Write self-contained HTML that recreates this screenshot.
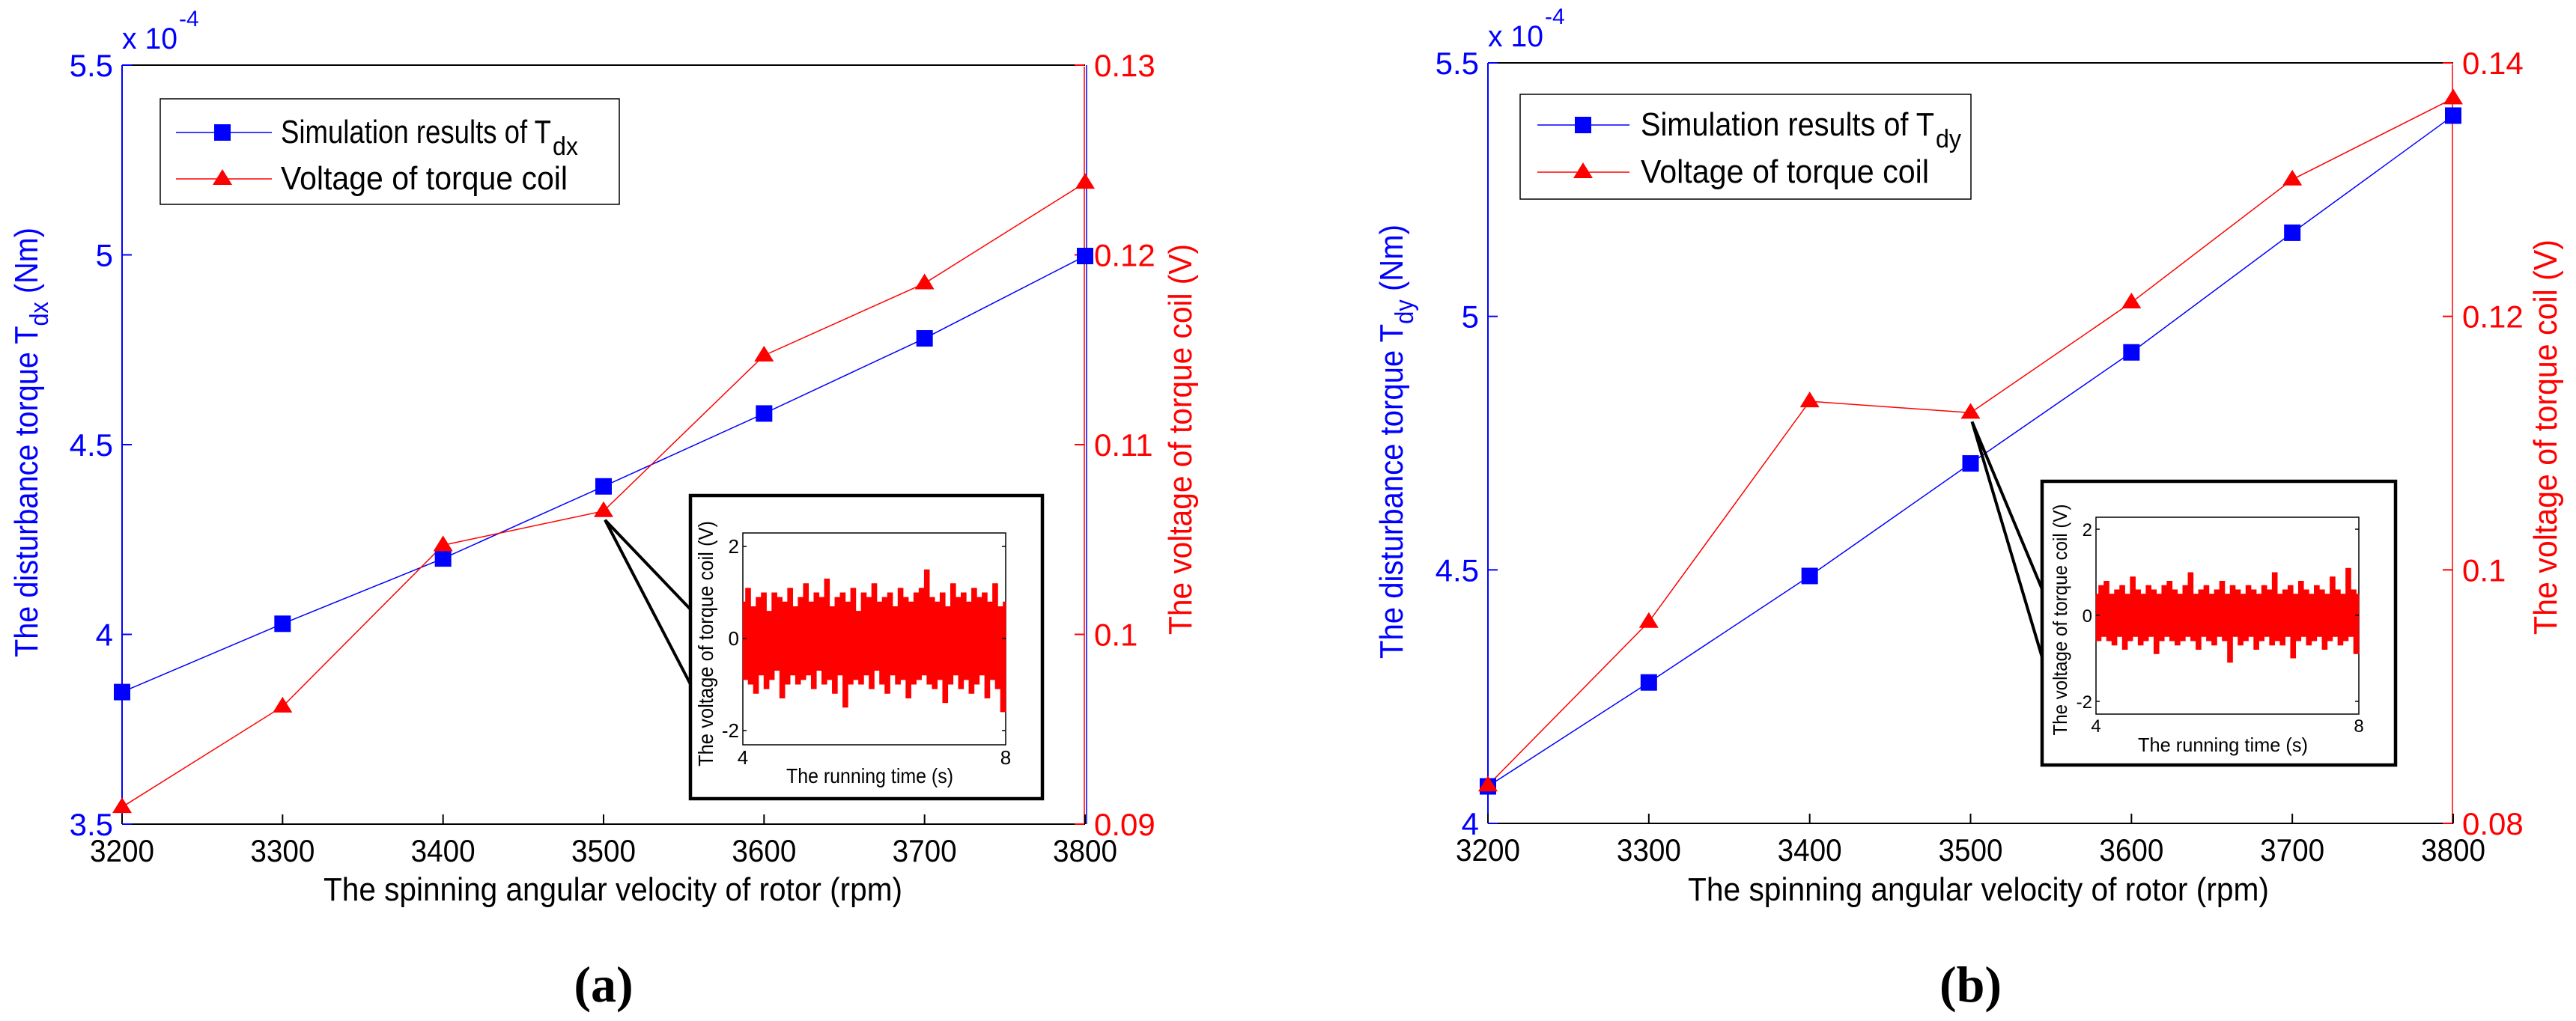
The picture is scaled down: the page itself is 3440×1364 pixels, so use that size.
<!DOCTYPE html>
<html><head><meta charset="utf-8"><title>Disturbance torque vs spinning velocity</title>
<style>
html,body{margin:0;padding:0;background:#fff;}
svg{display:block;}
text{font-family:"Liberation Sans",Arial,sans-serif;}
</style></head>
<body>
<svg id="fig" xmlns="http://www.w3.org/2000/svg" width="3440" height="1364" viewBox="0 0 3440 1364"></svg>
<script>
// ---- data ----
const rpm = [3200, 3300, 3400, 3500, 3600, 3700, 3800];
const xTicks = [3200, 3300, 3400, 3500, 3600, 3700, 3800];
const tdxA = [3.848, 4.028, 4.20, 4.39, 4.582, 4.78, 4.997];
const voltA = [0.0909, 0.0962, 0.1047, 0.1065, 0.1147, 0.1185, 0.1238];
const leftTicksA = [3.5, 4, 4.5, 5, 5.5];
const rightTicksA = [0.09, 0.1, 0.11, 0.12, 0.13];
const tdyB = [4.073, 4.278, 4.488, 4.710, 4.929, 5.165, 5.396];
const voltB = [0.0830, 0.0959, 0.1133, 0.1124, 0.1211, 0.1308, 0.1372];
const leftTicksB = [4, 4.5, 5, 5.5];
const rightTicksB = [0.08, 0.1, 0.12, 0.14];
const insetYTicks = [2, 0, -2];
const insetXTicks = [4, 8];
const noiseA = [0.8,-0.9,1.1,-1.0,0.7,-1.2,0.9,-0.8,1.0,-1.1,0.6,-0.9,1.0,-0.7,0.9,-1.3,0.8,-1.0,1.1,-0.8,0.7,-1.0,0.9,-0.9,1.2,-0.8,0.8,-1.1,1.0,-0.7,0.9,-1.0,1.3,-0.9,0.7,-1.2,0.9,-0.8,1.0,-1.5,0.8,-1.0,1.1,-0.9,0.6,-1.0,1.0,-0.8,0.9,-1.1,1.2,-0.7,0.8,-1.0,0.9,-1.2,1.0,-0.8,0.7,-1.0,1.1,-0.9,0.9,-1.3,0.8,-1.0,1.0,-0.9,1.1,-0.8,1.5,-1.0,0.9,-1.1,0.8,-0.9,1.0,-1.4,0.7,-1.0,1.2,-0.8,0.9,-1.1,1.0,-0.9,0.8,-1.2,1.1,-1.0,0.9,-0.8,1.0,-1.3,0.8,-0.9,1.2,-1.1,0.7,-1.6];
const noiseB = [0.5,-0.6,0.7,-0.5,0.8,-0.6,0.5,-0.7,0.6,-0.5,0.7,-0.8,0.5,-0.6,0.9,-0.5,0.6,-0.7,0.5,-0.6,0.7,-0.5,0.6,-0.9,0.5,-0.6,0.7,-0.5,0.8,-0.6,0.6,-0.7,0.5,-0.6,0.7,-0.5,1.0,-0.6,0.5,-0.8,0.6,-0.5,0.7,-0.6,0.5,-0.7,0.6,-0.5,0.8,-0.6,0.5,-1.1,0.7,-0.5,0.6,-0.7,0.5,-0.6,0.7,-0.5,0.6,-0.8,0.5,-0.6,0.7,-0.5,0.6,-0.7,1.0,-0.6,0.5,-0.7,0.6,-0.5,0.7,-1.0,0.5,-0.6,0.8,-0.5,0.6,-0.7,0.5,-0.6,0.7,-0.5,0.6,-0.8,0.5,-0.6,0.9,-0.5,0.6,-0.7,0.5,-0.6,1.1,-0.5,0.6,-0.9];

const NS = "http://www.w3.org/2000/svg";
const svg = document.getElementById("fig");
function mk(tag, attrs, parent, txt) {
  const e = document.createElementNS(NS, tag);
  for (const k in attrs) e.setAttribute(k, attrs[k]);
  if (txt !== undefined) e.textContent = txt;
  (parent || svg).appendChild(e);
  return e;
}

function panel(cfg) {
  const g = mk("g", {});
  
  
  const sx = v => cfg.L + (v - xTicks[0]) / (xTicks[xTicks.length - 1] - xTicks[0]) * (cfg.R - cfg.L);
  const sl = v => cfg.B - (v - cfg.lt[0]) / (cfg.lt[cfg.lt.length - 1] - cfg.lt[0]) * (cfg.B - cfg.T);
  const sr = v => cfg.B - (v - cfg.rt[0]) / (cfg.rt[cfg.rt.length - 1] - cfg.rt[0]) * (cfg.B - cfg.T);

  let e = mk("line", {x1: cfg.L, y1: cfg.T, x2: cfg.R, y2: cfg.T, stroke: "#000", "stroke-width": 2}, g);
  
  
  e = mk("line", {x1: cfg.L, y1: cfg.B, x2: cfg.R, y2: cfg.B, stroke: "#000", "stroke-width": 2}, g);
  
  
  e = mk("line", {x1: cfg.L, y1: cfg.T, x2: cfg.L, y2: cfg.B, stroke: "#00f", "stroke-width": 2}, g);
  
  
  if (cfg.id === 'a') {
    e = mk("line", {x1: cfg.R + 2, y1: cfg.T, x2: cfg.R + 2, y2: cfg.B, stroke: "#00f", "stroke-width": 1.5}, g);
    
    
  }
  e = mk("line", {x1: cfg.R - 1, y1: cfg.T + 2, x2: cfg.R - 1, y2: cfg.B, stroke: "#f00", "stroke-width": 1.5}, g);
  
  

  xTicks.forEach(v => {
    const x = sx(v);
    let t = mk("line", {x1: x, y1: cfg.B, x2: x, y2: cfg.B - 13, stroke: "#000", "stroke-width": 2}, g);
    
    
    t = mk("text", {x: x, y: cfg.B + 50, "font-size": 42, "text-anchor": "middle", fill: "#000", textLength: 86, lengthAdjust: "spacingAndGlyphs"}, g, String(v));
    
    
  });
  cfg.lt.forEach(v => {
    const y = sl(v);
    let t = mk("line", {x1: cfg.L, y1: y, x2: cfg.L + 13, y2: y, stroke: "#00f", "stroke-width": 2}, g);
    
    
    t = mk("text", {x: cfg.L - 12, y: y + 15, "font-size": 42, "text-anchor": "end", fill: "#00f"}, g, String(v));
    
    
  });
  cfg.rt.forEach(v => {
    const y = sr(v);
    let t = mk("line", {x1: cfg.R - 1, y1: y, x2: cfg.R - 14, y2: y, stroke: "#f00", "stroke-width": 2}, g);
    
    
    t = mk("text", {x: cfg.R + 12, y: y + 15, "font-size": 42, "text-anchor": "start", fill: "#f00"}, g, String(v));
    
    
  });
  let ex = mk("text", {x: cfg.L, y: cfg.T - 22, "font-size": 40, fill: "#00f", textLength: 74, lengthAdjust: "spacingAndGlyphs"}, g, "x 10");
  
  
  ex = mk("text", {x: cfg.L + 76, y: cfg.T - 52, "font-size": 30, fill: "#00f"}, g, "-4");
  
  

  const bp = rpm.map((r, i) => sx(r) + "," + sl(cfg.blue[i])).join(" ");
  let pl = mk("polyline", {points: bp, fill: "none", stroke: "#00f", "stroke-width": 1.5}, g);
  
  
  const rp = rpm.map((r, i) => sx(r) + "," + sr(cfg.red[i])).join(" ");
  pl = mk("polyline", {points: rp, fill: "none", stroke: "#f00", "stroke-width": 1.5}, g);
  
  
  rpm.forEach((r, i) => {
    const x = sx(r), y = sl(cfg.blue[i]);
    const m = mk("rect", {x: x - 11, y: y - 11, width: 22, height: 22, fill: "#00f"}, g);
    
    
  });
  rpm.forEach((r, i) => {
    const x = sx(r), y = sr(cfg.red[i]);
    const m = mk("polygon", {points: (x) + "," + (y - 13) + " " + (x - 13) + "," + (y + 8) + " " + (x + 13) + "," + (y + 8), fill: "#f00"}, g);
    
    
  });

  const lg = mk("g", {}, g);
  
  
  const Lb = cfg.leg;
  let r = mk("rect", {x: Lb.x0, y: Lb.y0, width: Lb.x1 - Lb.x0, height: Lb.y1 - Lb.y0, fill: "#fff", stroke: "#000", "stroke-width": 1.5}, lg);
  
  
  let ll = mk("line", {x1: Lb.lx0, y1: Lb.r1, x2: Lb.lx1, y2: Lb.r1, stroke: "#00f", "stroke-width": 1.5}, lg);
  
  
  let lm = mk("rect", {x: Lb.mx - 11, y: Lb.r1 - 11, width: 22, height: 22, fill: "#00f"}, lg);
  
  
  ll = mk("line", {x1: Lb.lx0, y1: Lb.r2, x2: Lb.lx1, y2: Lb.r2, stroke: "#f00", "stroke-width": 1.5}, lg);
  
  
  lm = mk("polygon", {points: Lb.mx + "," + (Lb.r2 - 13) + " " + (Lb.mx - 13) + "," + (Lb.r2 + 8) + " " + (Lb.mx + 13) + "," + (Lb.r2 + 8), fill: "#f00"}, lg);
  
  
  let lt = mk("text", {x: Lb.tx, y: Lb.r1 + 14, "font-size": 44, fill: "#000", textLength: Lb.t1w, lengthAdjust: "spacingAndGlyphs"}, lg, "Simulation results of T");
  
  
  lt = mk("text", {x: Lb.tx + Lb.t1w + 2, y: Lb.r1 + 30, "font-size": 34, fill: "#000", textLength: 34, lengthAdjust: "spacingAndGlyphs"}, lg, cfg.sub);
  
  
  lt = mk("text", {x: Lb.tx, y: Lb.r2 + 14, "font-size": 44, fill: "#000", textLength: Lb.t2w, lengthAdjust: "spacingAndGlyphs"}, lg, "Voltage of torque coil");
  
  

  let xt = mk("text", {x: cfg.xl.x0, y: 1203, "font-size": 44, fill: "#000", textLength: cfg.xl.w, lengthAdjust: "spacingAndGlyphs"}, g, "The spinning angular velocity of rotor (rpm)");
  
  
  const yt = mk("text", {x: 0, y: 0, "font-size": 44, fill: "#00f", "text-anchor": "middle", transform: "translate(" + cfg.yl.x + "," + cfg.yl.cy + ") rotate(-90)", textLength: cfg.yl.w, lengthAdjust: "spacingAndGlyphs"}, g);
  
  
  mk("tspan", {}, yt, "The disturbance torque T");
  mk("tspan", {dy: 14, "font-size": 34}, yt, cfg.sub);
  mk("tspan", {dy: -14}, yt, " (Nm)");
  const yr = mk("text", {x: 0, y: 0, "font-size": 44, fill: "#f00", "text-anchor": "middle", transform: "translate(" + cfg.yr.x + "," + cfg.yr.cy + ") rotate(-90)", textLength: cfg.yr.w, lengthAdjust: "spacingAndGlyphs"}, g, "The voltage of torque coil (V)");
  
  

  const cap = mk("text", {x: (cfg.L + cfg.R) / 2, y: 1338, "font-size": 68, "font-weight": "bold", "text-anchor": "middle", fill: "#000", style: "font-family:'Liberation Serif',serif"}, g, "(" + cfg.id + ")");
  
  

  const I = cfg.inset;
  const ig = mk("g", {}, g);
  
  
  const px = sx(rpm[3]) + 2, py = sr(cfg.red[3]) + 12;
  let cl = mk("polyline", {points: I.b.x0 + "," + I.c1 + " " + px + "," + py + " " + I.b.x0 + "," + I.c2, fill: "none", stroke: "#000", "stroke-width": 4}, ig);
  
  
  let bx = mk("rect", {x: I.b.x0, y: I.b.y0, width: I.b.x1 - I.b.x0, height: I.b.y1 - I.b.y0, fill: "#fff", stroke: "#000", "stroke-width": 4.5}, ig);
  
  
  const ix = v => I.p.x0 + (v - insetXTicks[0]) / (insetXTicks[1] - insetXTicks[0]) * (I.p.x1 - I.p.x0);
  const iy = v => I.y0 - v * I.k;
  let ip = mk("rect", {x: I.p.x0, y: I.p.y0, width: I.p.x1 - I.p.x0, height: I.p.y1 - I.p.y0, fill: "#fff", stroke: "#000", "stroke-width": 1.5}, ig);
  
  
  const nz = cfg.noise;
  const step = (I.p.x1 - I.p.x0) / nz.length;
  nz.forEach((v, i) => {
    const xx = ix(insetXTicks[0] + (insetXTicks[1] - insetXTicks[0]) * (i + 0.5) / nz.length);
    const nxt = nz[(i + 1) % nz.length];
    const b = mk("line", {x1: xx, y1: iy(v), x2: xx, y2: iy(nxt), stroke: "#f00", "stroke-width": step + 0.6}, ig);
    
    
  });
  insetYTicks.forEach(v => {
    let t = mk("line", {x1: I.p.x0, y1: iy(v), x2: I.p.x0 + 5, y2: iy(v), stroke: "#000", "stroke-width": 1.5}, ig);
    
    
    t = mk("line", {x1: I.p.x1, y1: iy(v), x2: I.p.x1 - 5, y2: iy(v), stroke: "#000", "stroke-width": 1.5}, ig);
    
    
    t = mk("text", {x: I.p.x0 - 5, y: iy(v) + 9, "font-size": I.fs, "text-anchor": "end", fill: "#000"}, ig, String(v));
    
    
  });
  insetXTicks.forEach(v => {
    const t = mk("text", {x: ix(v), y: I.xb, "font-size": I.fs, "text-anchor": "middle", fill: "#000"}, ig, String(v));
    
    
  });
  let ixt = mk("text", {x: I.xt.x0, y: I.xt.y, "font-size": I.fs + 2, fill: "#000", textLength: I.xt.w, lengthAdjust: "spacingAndGlyphs"}, ig, "The running time (s)");
  
  
  let iyt = mk("text", {x: 0, y: 0, "font-size": I.fs + 2, "text-anchor": "middle", fill: "#000", transform: "translate(" + I.yt.x + "," + I.yt.cy + ") rotate(-90)", textLength: I.yt.w, lengthAdjust: "spacingAndGlyphs"}, ig, "The voltage of torque coil (V)");
  
  
}

panel({
  id: "a", sub: "dx", L: 163, R: 1449, T: 87, B: 1101, lt: leftTicksA, rt: rightTicksA, blue: tdxA, red: voltA, noise: noiseA,
  leg: {x0: 214, y0: 132, x1: 827, y1: 273, lx0: 235, lx1: 363, mx: 297, r1: 177, r2: 239, tx: 375, t1w: 361, t2w: 383},
  xl: {x0: 432, w: 773}, yl: {x: 50, cy: 591, w: 574}, yr: {x: 1591, cy: 587, w: 522},
  inset: {b: {x0: 922, y0: 662, x1: 1392, y1: 1067}, p: {x0: 992, y0: 712, x1: 1343, y1: 995}, y0: 853, k: 61.5, c1: 814, c2: 914,
    fs: 26, xb: 1021, xt: {x0: 1050, y: 1046, w: 223}, yt: {x: 952, cy: 860, w: 328}}
});
panel({
  id: "b", sub: "dy", L: 1987, R: 3276, T: 84, B: 1100, lt: leftTicksB, rt: rightTicksB, blue: tdyB, red: voltB, noise: noiseB,
  leg: {x0: 2030, y0: 126, x1: 2632, y1: 266, lx0: 2053, lx1: 2176, mx: 2114, r1: 167, r2: 230, tx: 2191, t1w: 392, t2w: 385},
  xl: {x0: 2254, w: 776}, yl: {x: 1873, cy: 590, w: 580}, yr: {x: 3414, cy: 584, w: 528},
  inset: {b: {x0: 2727, y0: 643, x1: 3199, y1: 1022}, p: {x0: 2799, y0: 691, x1: 3150, y1: 954}, y0: 822, k: 57.5, c1: 787, c2: 878,
    fs: 24, xb: 978, xt: {x0: 2855, y: 1004, w: 227}, yt: {x: 2760, cy: 828, w: 309}}
});
</script>
</body></html>
